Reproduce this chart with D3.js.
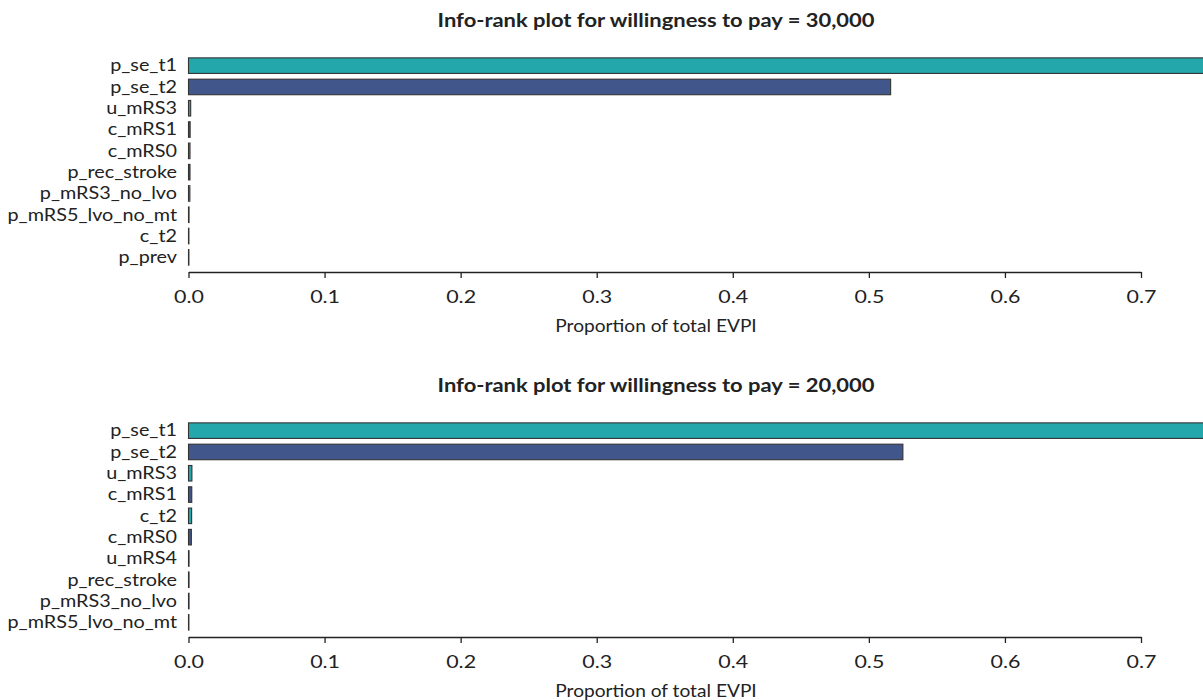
<!DOCTYPE html>
<html>
<head>
<meta charset="utf-8">
<script src="https://cdn.jsdelivr.net/npm/d3@7"></script>
<style>
  html, body { margin: 0; padding: 0; background: #fff; }
  svg { display: block; font-family: Lato, "Open Sans", sans-serif; }
</style>
</head>
<body>
<svg id="chart" width="1203" height="700"></svg>
<script>
// Info-rank plots: share of total EVPI per parameter, at two willingness-to-pay thresholds
const wtpLevels = ["30,000", "20,000"];

const params30k = ["p_se_t1", "p_se_t2", "u_mRS3", "c_mRS1", "c_mRS0", "p_rec_stroke",
                   "p_mRS3_no_lvo", "p_mRS5_lvo_no_mt", "c_t2", "p_prev"];
const share30k  = [0.86, 0.516, 0.0016, 0.0012, 0.0011, 0.0011, 0.001, 0.0004, 0.0003, 0.0003];

const params20k = ["p_se_t1", "p_se_t2", "u_mRS3", "c_mRS1", "c_t2", "c_mRS0", "u_mRS4",
                   "p_rec_stroke", "p_mRS3_no_lvo", "p_mRS5_lvo_no_mt"];
const share20k  = [0.86, 0.525, 0.0025, 0.0024, 0.0023, 0.0021, 0.0004, 0.0004, 0.0004, 0.0003];

const xTicks = [0, 0.1, 0.2, 0.3, 0.4, 0.5, 0.6, 0.7];
const barColors = ["#23a7ab", "#41568a"];

const panels = [
  { wtp: wtpLevels[0], names: params30k, values: share30k },
  { wtp: wtpLevels[1], names: params20k, values: share20k }
];

// text in this figure is set slightly wide
const WIDE = 1.22;

const svg = d3.select("#chart");
const left = 188.5;
const x = d3.scaleLinear().domain([0, 0.7]).range([left, 1141]);
const panelOffset = 365;

panels.forEach((p, i) => {
  const g = svg.append("g").attr("transform", `translate(0,${i * panelOffset})`);

  g.append("text")
    .attr("transform", `translate(656,27) scale(${WIDE},1)`)
    .attr("text-anchor", "middle")
    .attr("font-weight", "bold")
    .attr("font-size", 18)
    .attr("fill", "#222")
    .text(`Info-rank plot for willingness to pay = ${p.wtp}`);

  const y = d3.scaleBand()
    .domain(p.names)
    .range([55, 268])
    .paddingInner(0.27)
    .paddingOuter(0.135);

  const data = p.names.map((n, k) => ({ name: n, value: p.values[k], k }));

  g.selectAll("rect.bar").data(data).enter().append("rect")
    .attr("class", "bar")
    .attr("x", x(0))
    .attr("y", d => y(d.name))
    .attr("width", d => Math.max(0, x(d.value) - x(0)))
    .attr("height", y.bandwidth())
    .attr("fill", d => barColors[d.k % 2])
    .attr("stroke", "#333")
    .attr("stroke-width", 1.1);

  g.selectAll("text.lab").data(data).enter().append("text")
    .attr("class", "lab")
    .attr("transform", d => `translate(177,${y(d.name) + y.bandwidth() / 2}) scale(1.2,1)`)
    .attr("dy", "0.35em")
    .attr("text-anchor", "end")
    .attr("font-size", 16.5)
    .attr("fill", "#222")
    .text(d => d.name);

  const axis = d3.axisBottom(x)
    .tickValues(xTicks)
    .tickFormat(d3.format(".1f"))
    .tickSize(6)
    .tickSizeOuter(0);

  const ax = g.append("g").attr("transform", "translate(0,272)").call(axis);
  ax.select(".domain").attr("stroke", "#222").attr("stroke-width", 1.3);
  ax.selectAll(".tick line").attr("stroke", "#222").attr("stroke-width", 1.3);
  ax.selectAll(".tick text")
    .attr("y", 0).attr("dy", 0)
    .attr("transform", `translate(0,31) scale(1.19,1)`)
    .attr("font-family", "Lato, 'Open Sans', sans-serif")
    .attr("font-size", 18)
    .attr("fill", "#222");

  g.append("text")
    .attr("transform", `translate(656,332) scale(1.16,1)`)
    .attr("text-anchor", "middle")
    .attr("font-size", 16.5)
    .attr("fill", "#222")
    .text("Proportion of total EVPI");
});
</script>
</body>
</html>
